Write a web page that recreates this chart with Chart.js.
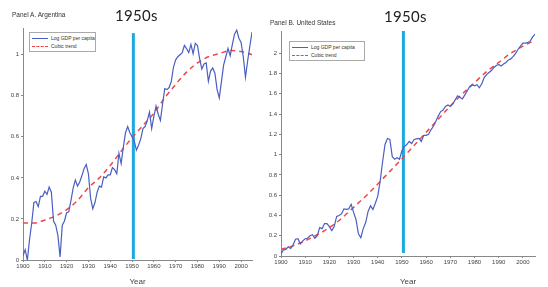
<!DOCTYPE html>
<html><head><meta charset="utf-8">
<script src="https://cdn.jsdelivr.net/npm/chart.js@4/dist/chart.umd.min.js"></script>
<style>
body{margin:0;width:548px;height:287px;background:#fff;position:relative;overflow:hidden;font-family:"Liberation Sans",Arial,sans-serif}
.cv{position:absolute;top:0}
.ttl{position:absolute;font-size:6.5px;color:#333;white-space:nowrap}
.big{position:absolute;font-family:Lato,"Open Sans",sans-serif;font-size:15px;color:#222;letter-spacing:0.3px;white-space:nowrap}
.leg{position:absolute;border:1px solid #aaa;background:#fff;font-size:5px;color:#333;padding:1px 3px 1px 2px;line-height:8px}
.leg div{white-space:nowrap}
.ln{display:inline-block;width:16px;vertical-align:middle;margin-right:3px}
</style></head><body>
<div id="wa" class="cv" style="left:0;width:262px;height:287px"><canvas id="ca"></canvas></div>
<div id="wb" class="cv" style="left:262px;width:286px;height:287px"><canvas id="cb"></canvas></div>
<div class="ttl" style="left:12px;top:11px">Panel A. Argentina</div>
<div class="ttl" style="left:270px;top:19px">Panel B. United States</div>
<div class="big" style="left:115px;top:6px">1950s</div>
<div class="big" style="left:384px;top:7px">1950s</div>
<div class="leg" style="left:29px;top:32px;width:60px"><div><span class="ln" style="border-top:1.2px solid #4a5fc1"></span>Log GDP per capita</div><div><span class="ln" style="border-top:1.5px dashed #ee4444"></span>Cubic trend</div></div>
<div class="leg" style="left:289px;top:41px;width:69px"><div><span class="ln" style="border-top:1.2px solid #4a5fc1"></span>Log GDP per capita</div><div><span class="ln" style="border-top:1.5px dashed #ee4444"></span>Cubic trend</div></div>
<script>
const firstYear = 1900;
const argGdp = [0.02,0.05,0.0,0.1,0.18,0.28,0.285,0.26,0.31,0.31,
0.335,0.32,0.355,0.33,0.19,0.17,0.12,0.015,0.17,0.19,
0.23,0.235,0.29,0.35,0.39,0.36,0.38,0.41,0.445,0.465,
0.42,0.30,0.25,0.28,0.33,0.36,0.355,0.405,0.40,0.415,
0.415,0.45,0.44,0.42,0.52,0.47,0.55,0.62,0.65,0.62,
0.60,0.58,0.535,0.56,0.59,0.64,0.65,0.68,0.72,0.64,
0.70,0.75,0.71,0.68,0.76,0.835,0.83,0.84,0.87,0.94,
0.975,0.99,1.0,1.01,1.045,1.03,1.01,1.05,1.005,1.055,
1.045,0.98,0.93,0.955,0.96,0.87,0.92,0.935,0.91,0.83,
0.79,0.87,0.95,0.99,1.03,0.995,1.05,1.1,1.12,1.08,
1.06,0.99,0.89,0.97,1.04,1.11];
const usGdp = [0.02,0.06,0.065,0.09,0.075,0.11,0.165,0.17,0.12,0.15,
0.17,0.175,0.2,0.21,0.175,0.2,0.28,0.27,0.32,0.32,
0.29,0.25,0.29,0.39,0.40,0.415,0.465,0.46,0.465,0.51,
0.43,0.36,0.22,0.18,0.27,0.33,0.44,0.495,0.46,0.52,
0.59,0.74,0.93,1.1,1.16,1.15,0.98,0.955,0.97,0.955,
1.04,1.08,1.1,1.13,1.11,1.15,1.155,1.16,1.13,1.19,
1.19,1.2,1.245,1.28,1.33,1.38,1.425,1.44,1.475,1.49,
1.475,1.5,1.54,1.58,1.565,1.55,1.59,1.63,1.67,1.69,
1.68,1.69,1.66,1.7,1.76,1.79,1.81,1.83,1.86,1.88,
1.89,1.875,1.895,1.91,1.935,1.945,1.97,2.0,2.04,2.07,
2.1,2.1,2.105,2.12,2.16,2.19];
const trendYears = [1900,1905,1910,1915,1920,1925,1930,1935,1940,1945,1950,1955,1960,1965,1970,1975,1980,1985,1990,1995,2000,2005];
const argTrend = [0.18,0.18,0.195,0.215,0.245,0.29,0.352,0.40,0.46,0.53,0.595,0.655,0.715,0.79,0.855,0.915,0.96,0.99,1.005,1.02,1.015,1.0];
const usTrend = [0.065,0.10,0.15,0.21,0.28,0.37,0.48,0.59,0.71,0.835,0.96,1.09,1.22,1.35,1.48,1.6,1.71,1.82,1.91,2.0,2.07,2.13];
const xTicks = [1900,1910,1920,1930,1940,1950,1960,1970,1980,1990,2000];
const argYTicks = [0,0.2,0.4,0.6,0.8,1];
const usYTicks = [0,0.2,0.4,0.6,0.8,1,1.2,1.4,1.6,1.8,2];
const markerYear = 1950.6;
const argMarkerSpan = [0.005,1.105];
const usMarkerSpan = [0.03,2.235];

function pts(vals){return vals.map((v,i)=>({x:firstYear+i,y:v}));}
function tpts(vals){return vals.map((v,i)=>({x:trendYears[i],y:v}));}

function make(id, gdp, trend, yTicks, ymax, span, cfg){
  new Chart(document.getElementById(id),{
    type:'line',
    data:{datasets:[
      {data:pts(gdp),borderColor:'#4a5fc1',borderWidth:1.2,pointRadius:0,tension:0},
      {data:tpts(trend),borderColor:'#ef4848',borderWidth:1.5,borderDash:[5,4],pointRadius:0,cubicInterpolationMode:'monotone'},
      {data:[{x:markerYear,y:span[0]},{x:markerYear,y:span[1]}],borderColor:'#1ca9e0',borderWidth:3,pointRadius:0}
    ]},
    options:{
      responsive:true,maintainAspectRatio:false,animation:false,
      layout:{autoPadding:false,padding:{top:cfg.top,right:cfg.right,left:0,bottom:0}},
      plugins:{legend:{display:false},tooltip:{enabled:false}},
      scales:{
        x:{type:'linear',min:1900,max:2005,
          afterBuildTicks:s=>{s.ticks=xTicks.map(v=>({value:v}));},
          afterFit:s=>{s.height=cfg.xh;},
          grid:{drawOnChartArea:false,tickLength:2,color:'#888'},
          border:{color:'#888',width:1},
          ticks:{font:{size:6,family:'"Liberation Sans Narrow","Liberation Sans",Arial'},color:'#444',padding:1,maxRotation:0,autoSkip:false,
            callback:v=>String(v)},
          title:{display:true,text:'Year',font:{size:cfg.ts,family:'"Liberation Sans",Arial'},color:'#444',padding:{top:cfg.tp,bottom:0}}
        },
        y:{type:'linear',min:0,max:ymax,
          afterBuildTicks:s=>{s.ticks=yTicks.map(v=>({value:v}));},
          afterFit:s=>{s.width=cfg.yw;},
          grid:{drawOnChartArea:false,tickLength:2,color:'#888'},
          border:{color:'#888',width:1},
          ticks:{font:{size:6,family:'"Liberation Sans Narrow","Liberation Sans",Arial'},color:'#444',padding:2,autoSkip:false,
            callback:v=>String(Math.round(v*10)/10)}
        }
      }
    }
  });
}
make('ca',argGdp,argTrend,argYTicks,1.13,argMarkerSpan,{top:28,right:10,xh:27,yw:23,ts:8,tp:7});
make('cb',usGdp,usTrend,usYTicks,2.22,usMarkerSpan,{top:31,right:13,xh:31,yw:19,ts:8,tp:4});
</script>
</body></html>
